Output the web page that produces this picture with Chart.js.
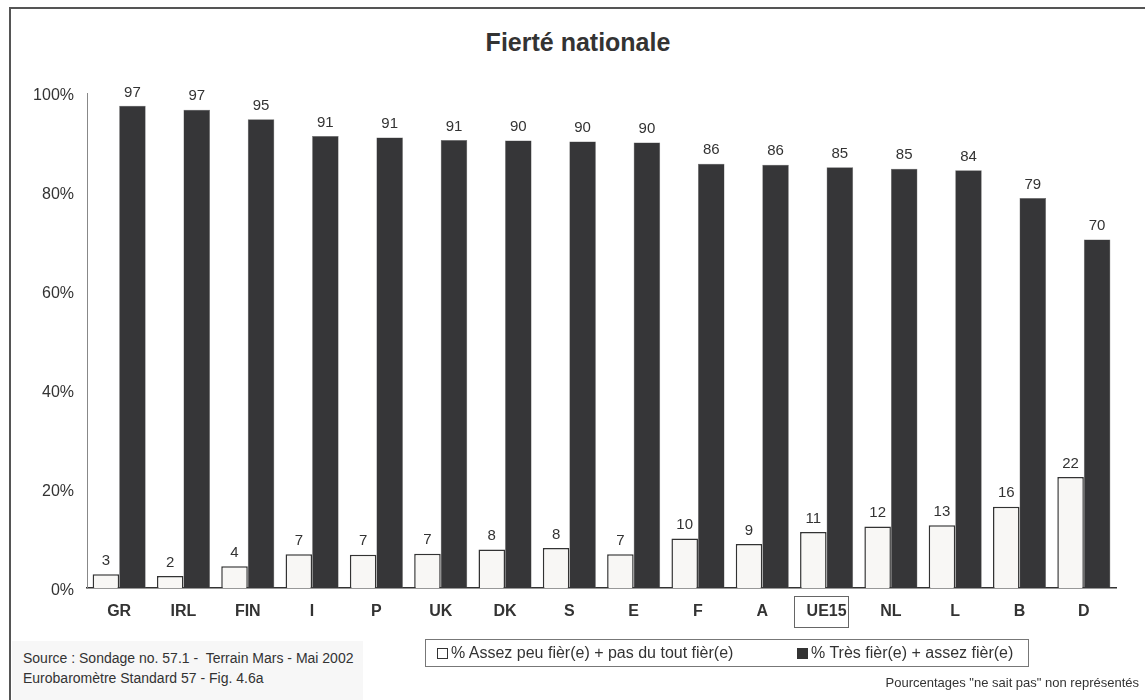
<!DOCTYPE html>
<html>
<head>
<meta charset="utf-8">
<script src="https://cdn.jsdelivr.net/npm/chart.js@4"></script>
<style>
  body { margin: 0; background: #fff; font-family: "Liberation Sans", Arial, sans-serif; color: #333; }
  #wrap { position: relative; width: 1145px; height: 700px; overflow: hidden; }
  #frame { position: absolute; left: 9px; top: 7px; width: 1150px; height: 710px; border-top: 2px solid #555; border-left: 2px solid #555; box-sizing: border-box; }
  #title { position: absolute; left: 0; width: 1156px; top: 28px; text-align: center; font-weight: bold; font-size: 25px; color: #333; }
  #source { position: absolute; left: 12px; top: 641px; width: 351px; height: 60px; background: #f7f7f7; font-size: 14px; line-height: 20px; padding: 7px 0 0 11px; box-sizing: border-box; color: #333; }
  #legend { position: absolute; left: 425px; top: 639px; width: 604px; height: 28px; border: 1px solid #777; box-sizing: border-box; font-size: 16px; line-height: 26px; color: #333; }
  #legend span.item { position: absolute; top: 0; white-space: nowrap; }
  .sw { display: inline-block; width: 11px; height: 11px; box-sizing: border-box; border: 1px solid #333; margin-right: 3px; vertical-align: -1px; }
  #note { position: absolute; right: 6px; top: 675px; font-size: 13px; color: #333; }
  canvas { position: absolute; left: 0; top: 0; }
</style>
</head>
<body>
<div id="wrap">
  <div id="frame"></div>
  <div id="title">Fierté nationale</div>
  <canvas id="chart" width="1145" height="700"></canvas>
  <div id="source">Source : Sondage no. 57.1 -&nbsp; Terrain Mars - Mai 2002<br>Eurobaromètre Standard 57 - Fig. 4.6a</div>
  <div id="legend">
    <span class="item" style="left:11px"><span class="sw" style="background:#fff"></span>% Assez peu fièr(e) + pas du tout fièr(e)</span>
    <span class="item" style="left:371px"><span class="sw" style="background:#333"></span>% Très fièr(e) + assez fièr(e)</span>
  </div>
  <div id="note">Pourcentages "ne sait pas" non représentés</div>
</div>
<script>
var countries = ['GR', 'IRL', 'FIN', 'I', 'P', 'UK', 'DK', 'S', 'E', 'F', 'A', 'UE15', 'NL', 'L', 'B', 'D'];
var notProud = [2.8, 2.4, 4.4, 6.8, 6.7, 6.9, 7.8, 8.1, 6.8, 10.0, 8.9, 11.3, 12.4, 12.7, 16.4, 22.4];
var proud = [97.4, 96.6, 94.7, 91.3, 91.0, 90.5, 90.4, 90.2, 90.0, 85.7, 85.5, 85.0, 84.7, 84.4, 78.8, 70.4];
var yTicks = [0, 20, 40, 60, 80, 100];

var valueLabels = {
    id: 'valueLabels',
    afterDatasetsDraw: function (chart) {
        var ctx = chart.ctx;
        ctx.save();
        ctx.font = '15px "Liberation Sans", Arial, sans-serif';
        ctx.fillStyle = '#333';
        ctx.textAlign = 'center';
        ctx.textBaseline = 'bottom';
        chart.data.datasets.forEach(function (ds, i) {
            chart.getDatasetMeta(i).data.forEach(function (bar, j) {
                ctx.fillText(Math.round(ds.data[j]), bar.x, bar.y - 6);
            });
        });
        // box round the UE15 label
        var x = chart.scales.x.getPixelForValue(countries.indexOf('UE15'));
        ctx.strokeStyle = '#666';
        ctx.lineWidth = 1;
        ctx.strokeRect(Math.round(x - 33) + 0.5, 596.5, 54, 31);
        ctx.restore();
    }
};

new Chart(document.getElementById('chart').getContext('2d'), {
    type: 'bar',
    data: {
        labels: countries,
        datasets: [{
            label: '% Assez peu fièr(e) + pas du tout fièr(e)',
            data: notProud,
            backgroundColor: '#f8f7f5',
            borderColor: '#333',
            borderWidth: 1.5
        }, {
            label: '% Très fièr(e) + assez fièr(e)',
            data: proud,
            backgroundColor: '#363638',
            borderColor: '#666',
            borderWidth: 0.5
        }]
    },
    options: {
        responsive: false,
        animation: false,
        layout: { padding: { left: 0, right: 29, top: 93, bottom: 72 } },
        datasets: { bar: { categoryPercentage: 0.825, barPercentage: 1 } },
        plugins: { legend: { display: false }, tooltip: { enabled: false } },
        scales: {
            x: {
                grid: { display: false },
                border: { display: true, color: '#333', width: 1.5 },
                ticks: { color: '#333', padding: 6, font: { family: '"Liberation Sans", Arial, sans-serif', size: 16, weight: 'bold' } },
                afterFit: function (scale) { scale.height = 40; }
            },
            y: {
                min: 0,
                max: 100,
                grid: { display: false, drawTicks: false },
                border: { display: true, color: '#888', width: 1 },
                afterBuildTicks: function (scale) {
                    scale.ticks = yTicks.map(function (v) { return { value: v }; });
                },
                ticks: {
                    color: '#333',
                    padding: 13,
                    labelOffset: 3,
                    font: { family: '"Liberation Sans", Arial, sans-serif', size: 16 },
                    callback: function (v) { return v + '%'; }
                },
                afterFit: function (scale) { scale.width = 87; }
            }
        }
    },
    plugins: [valueLabels]
});
</script>
</body>
</html>
